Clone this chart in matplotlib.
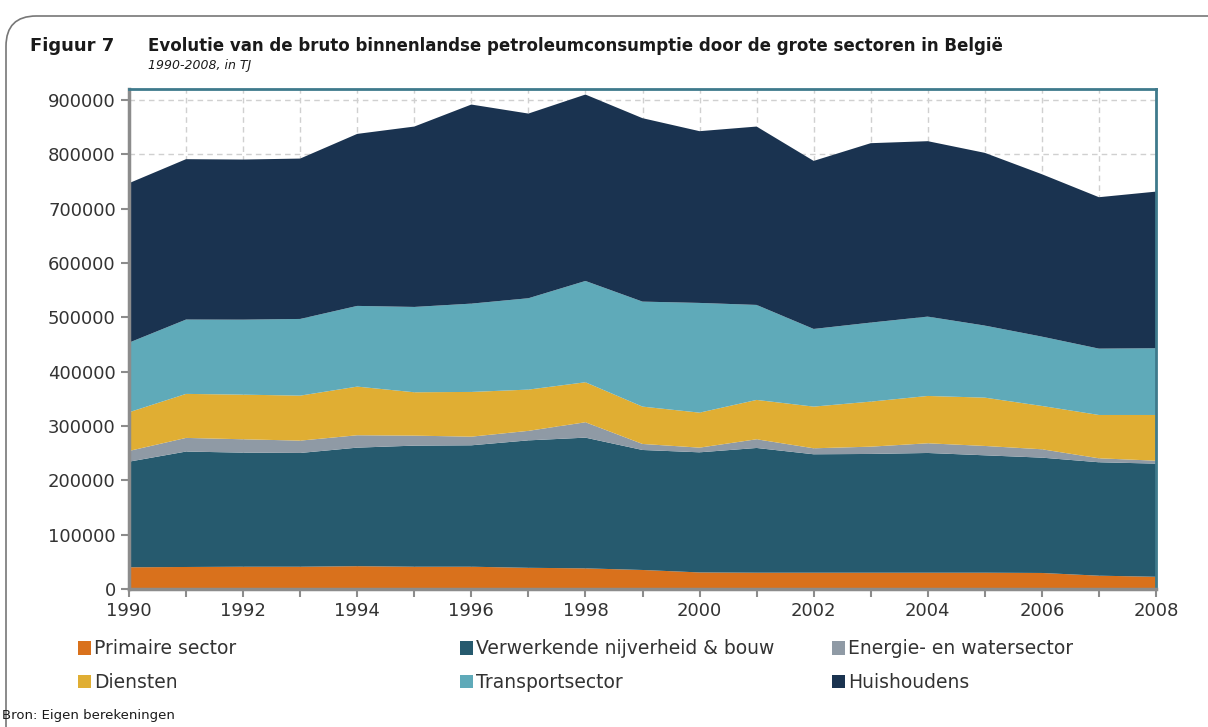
import numpy as np
import matplotlib
matplotlib.use("Agg")
from matplotlib import pyplot as plt
from matplotlib.patches import FancyBboxPatch, Patch

# data (TJ)
years = list(range(1990, 2009))
primaire = [40000, 40500, 41000, 41000, 42000, 41000, 41000, 39000, 38000, 35000,
            30500, 30000, 30000, 30000, 30000, 30000, 29500, 24500, 22500]
verwerkende = [194300, 212400, 209900, 209300, 218100, 222800, 223400, 234500, 240500, 220800,
               221000, 229500, 217900, 218500, 220300, 216000, 212200, 208700, 208200]
energie = [19700, 25100, 24600, 22700, 22800, 18400, 15900, 17500, 28300, 11100,
           8600, 16000, 11000, 13400, 17800, 17200, 15400, 7300, 5400]
diensten = [71200, 81000, 82100, 82800, 89500, 79800, 82300, 75900, 73600, 68700,
            64400, 72400, 76700, 82900, 87100, 88900, 79700, 79700, 84100]
transport = [128100, 136800, 138000, 141100, 148500, 157000, 162500, 168100, 186400, 193200,
             201900, 174800, 142900, 145400, 146000, 132600, 127600, 122100, 122800]
huishoudens = [293400, 295100, 294600, 295100, 316500, 331900, 366300, 339800, 343000, 337500,
               316000, 328200, 309200, 330100, 322800, 317800, 298800, 278600, 288200]

labels = ["Primaire sector", "Verwerkende nijverheid & bouw", "Energie- en watersector",
          "Diensten", "Transportsector", "Huishoudens"]
colors = ["#D9711C", "#265A6E", "#8F9AA5", "#E0AE33", "#5FAAB9", "#1A3350"]

fig = plt.figure(figsize=(12.08, 7.27), dpi=100)
ax = fig.add_axes([129 / 1208, 1 - 589 / 727, (1156 - 129) / 1208, (589 - 89) / 727])
ax.set_axisbelow(True)

ax.stackplot(years, primaire, verwerkende, energie, diensten, transport, huishoudens,
             colors=colors, labels=labels, linewidth=0, zorder=2)

ax.set_xlim(1990, 2008)
ax.set_ylim(0, 920000)
ax.set_xticks(range(1990, 2009, 2))
ax.set_yticks(range(0, 900001, 100000))
ax.set_xticks(range(1990, 2009), minor=True)
ax.grid(True, which="both", color="#d0d0d0", linestyle=(0, (4, 3)), linewidth=1, zorder=0)
ax.tick_params(axis="both", which="both", length=6, width=1.5, color="#8c8c8c",
               labelsize=13, labelcolor="#333333")
ax.tick_params(axis="x", which="major", pad=3)

for side in ["left", "bottom"]:
    ax.spines[side].set_color("#8c8c8c")
    ax.spines[side].set_linewidth(2.5)
for side in ["top", "right"]:
    ax.spines[side].set_color("#3F7A8C")
    ax.spines[side].set_linewidth(2)
for sp in ax.spines.values():
    sp.set_zorder(4)

# titles
fig.text(30 / 1208, 1 - 46 / 727, "Figuur 7", fontsize=13, fontweight="bold",
         color="#1a1a1a", va="center")
fig.text(148 / 1208, 1 - 46 / 727,
         "Evolutie van de bruto binnenlandse petroleumconsumptie door de grote sectoren in België",
         fontsize=12, fontweight="bold", color="#1a1a1a", va="center")
fig.text(148 / 1208, 1 - 66 / 727, "1990-2008, in TJ", fontsize=9, fontstyle="italic",
         color="#1a1a1a", va="center")

# legend in three columns
handles = [Patch(facecolor=c, edgecolor="none") for c in colors]
col_x = [70 / 1208, 452 / 1208, 824 / 1208]
for i, x in enumerate(col_x):
    leg = fig.legend([handles[i], handles[i + 3]], [labels[i], labels[i + 3]],
                     loc="upper left", bbox_to_anchor=(x, 1 - 632 / 727), ncol=1,
                     frameon=False, fontsize=13.5, handlelength=0.7, handleheight=0.7,
                     handletextpad=0.2, labelspacing=0.78, borderaxespad=0)
    for t in leg.get_texts():
        t.set_color("#333333")

fig.text(2 / 1208, 1 - 716 / 727, "Bron: Eigen berekeningen", fontsize=9.5,
         color="#1a1a1a", va="center")

# rounded frame around the figure
frame = FancyBboxPatch((6 / 1208, -0.05), 1.2, 1 - 16 / 727 + 0.05,
                       boxstyle="round,pad=0,rounding_size=0.025",
                       transform=fig.transFigure, facecolor="none",
                       edgecolor="#777777", linewidth=1.2, mutation_aspect=1208 / 727)
fig.patches.append(frame)

fig.savefig("out.png", dpi=100)
